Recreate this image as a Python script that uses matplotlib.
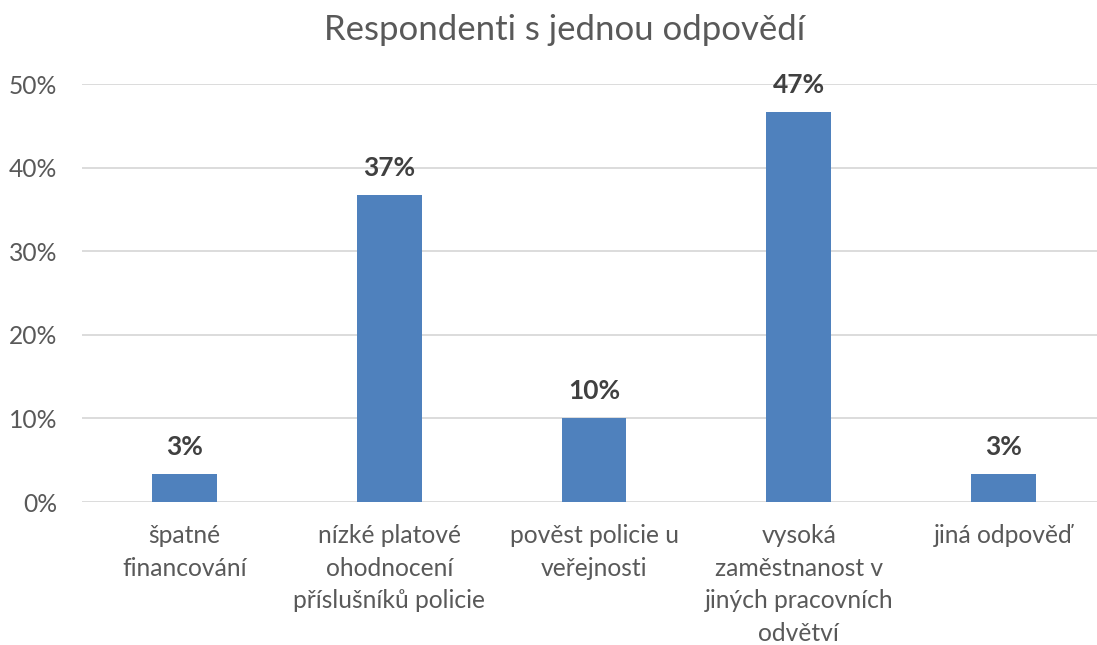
import matplotlib
matplotlib.use("Agg")
import matplotlib.pyplot as plt
from matplotlib.ticker import FuncFormatter

categories = ["špatné\nfinancování",
              "nízké platové\nohodnocení\npříslušníků policie",
              "pověst policie u\nveřejnosti",
              "vysoká\nzaměstnanost v\njiných pracovních\nodvětví",
              "jiná odpověď"]
values = [1/30, 11/30, 3/30, 14/30, 1/30]
labels = ["3%", "37%", "10%", "47%", "3%"]
yticks = [0, 0.1, 0.2, 0.3, 0.4, 0.5]
title = "Respondenti s jednou odpovědí"

plt.rcParams['font.family'] = ['Lato', 'DejaVu Sans']

W, H = 1097, 645
fig = plt.figure(figsize=(W/100, H/100), dpi=100)
left = 82/W
bottom = (H-502)/H
top = (H-84)/H
ax = fig.add_axes([left, bottom, 1-left, top-bottom])

x = list(range(len(categories)))
ax.bar(x, values, width=0.317, color="#4F81BD", zorder=3)
for xi, v, lab in zip(x, values, labels):
    ax.annotate(lab, (xi, v), xytext=(0, 11), textcoords="offset points",
                ha="center", va="bottom", fontsize=19, fontweight="bold", color="#404040")

ax.set_xlim(-0.5, 4.5 - 9/204.7)
ax.set_ylim(0, 0.5)
ax.set_yticks(yticks)
ax.yaxis.set_major_formatter(FuncFormatter(lambda v, p: f"{v*100:.0f}%"))
ax.grid(axis="y", color="#D9D9D9", linewidth=1.3, zorder=0)
for s in ["top", "right", "left", "bottom"]:
    ax.spines[s].set_visible(False)
ax.tick_params(axis="y", length=0, pad=18, labelsize=17.7, labelcolor="#595959")
ax.set_xticks(x)
ax.set_xticklabels(categories, fontsize=17.7, color="#595959", linespacing=1.5, va="top", ha="center")
ax.tick_params(axis="x", length=0, pad=16)
fig.text(565/W, 1 - 30/H, title, ha="center", va="center", fontsize=25, color="#595959")

fig.savefig("out.png", dpi=100)
